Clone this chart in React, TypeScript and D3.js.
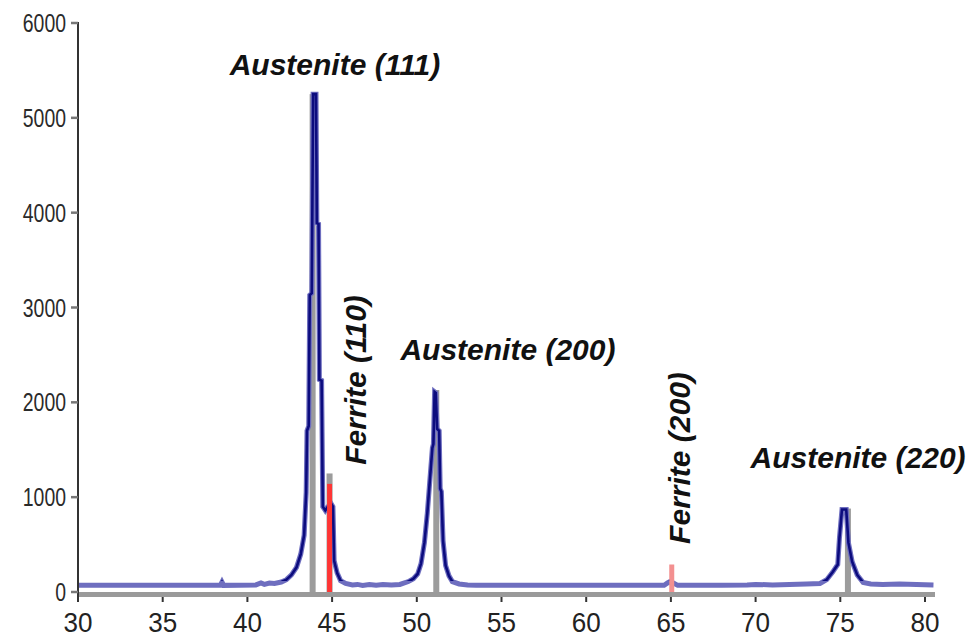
import React from "react";
import * as d3 from "d3";

// ---- Data ----
const THETA = [
  30.0, 33.0, 36.0, 38.4, 38.5, 38.6, 40.5, 40.8, 41.0, 41.3, 41.6, 42.0, 42.3, 42.6, 42.9,
  43.15, 43.35, 43.47, 43.52, 43.62, 43.68, 43.8, 43.88, 44.05, 44.1, 44.2, 44.25, 44.38,
  44.45, 44.6, 44.75, 44.95, 45.05, 45.12, 45.3, 45.5, 45.8, 46.2, 46.5, 46.8, 47.2, 47.6,
  48.0, 48.5, 49.0, 49.5, 49.8, 50.05, 50.25, 50.45, 50.62, 50.78, 50.92, 50.98, 51.05,
  51.12, 51.2, 51.32, 51.38, 51.45, 51.55, 51.7, 51.9, 52.1, 52.5, 53.0, 53.5, 56.0, 60.0,
  64.6, 64.8, 64.95, 65.15, 65.4, 68.0, 69.5, 70.0, 71.0, 72.0, 73.0, 73.8, 74.2, 74.55,
  74.85, 74.95, 75.1, 75.35, 75.48, 75.7, 76.0, 76.35, 76.8, 77.5, 78.5, 79.5, 80.5,
];
const INTENSITY = [
  70, 70, 70, 70, 105, 70, 75, 95, 80, 95, 90, 105, 130, 180, 260,
  400, 600, 1050, 1700, 1750, 3130, 3150, 5250, 5250, 3890, 3880, 2240, 2230,
  900, 860, 900, 930, 900, 330, 200, 120, 90, 75, 80, 70, 80, 72,
  80, 75, 80, 110, 140, 190, 300, 520, 830, 1200, 1520, 1560, 2110,
  2100, 1720, 1700, 1090, 1060, 540, 280, 170, 110, 85, 75, 70, 70, 70,
  70, 95, 110, 95, 70, 70, 75, 80, 75, 80, 85, 90, 130, 210,
  290, 570, 870, 870, 520, 320, 180, 100, 85, 80, 85, 80, 75,
];

const REF_GRAY_POS = [43.85, 44.85, 51.15, 75.45];
const REF_GRAY_INT = [5250, 1250, 2130, 880];
const FERRITE_POS = [44.85, 65.05];
const FERRITE_INT = [1140, 290];
const FERRITE_COLORS = ["#ff3535", "#f39090"];

const X_TICKS = [30, 35, 40, 45, 50, 55, 60, 65, 70, 75, 80];
const Y_TICKS = [0, 1000, 2000, 3000, 4000, 5000, 6000];

const LABELS = ["Austenite (111)", "Ferrite (110)", "Austenite (200)", "Ferrite (200)", "Austenite (220)"];
const LABEL_THETA = [45.17, 47.0, 55.38, 66.13, 76.05];
const LABEL_INT = [5452, 2236, 2446, 1413, 1308];
const LABEL_ROT = [false, true, false, true, false];

export default function App() {
  const W = 966, H = 639;
  const x = d3.scaleLinear().domain([30, 80]).range([78, 925]);
  const y = d3.scaleLinear().domain([0, 6000]).range([592, 23]);

  const pts: [number, number][] = THETA.map((t, i) => [t, INTENSITY[i]]);
  const line = d3.line<[number, number]>().x((d) => x(d[0])).y((d) => y(d[1]));
  const path = line(pts) || "";

  const font = "'Liberation Sans', Arial, sans-serif";

  return (
    <svg width={W} height={H} style={{ position: "absolute", left: 0, top: 0, background: "#fff" }}>
      <defs>
        <clipPath id="peakclip">
          <rect x={0} y={0} width={W} height={y(115)} />
        </clipPath>
      </defs>

      {/* reference gray sticks */}
      {REF_GRAY_POS.map((p, i) => (
        <rect key={"g" + i} x={x(p) - 3} y={y(REF_GRAY_INT[i])} width={6} height={y(0) - y(REF_GRAY_INT[i])} fill="#9c9c9c" />
      ))}

      {/* spectrum: light purple base, navy peaks */}
      <path d={path} fill="none" stroke="#6e6ebf" strokeWidth={5} strokeLinejoin="miter" />
      <path d={path} fill="none" stroke="#0c0c7e" strokeWidth={2.6} clipPath="url(#peakclip)" />

      {/* ferrite sticks */}
      {FERRITE_POS.map((p, i) => (
        <rect key={"f" + i} x={x(p) - 2.5} y={y(FERRITE_INT[i])} width={5} height={y(0) - y(FERRITE_INT[i])} fill={FERRITE_COLORS[i]} />
      ))}

      {/* x axis band */}
      <rect x={x(30)} y={y(0)} width={x(80) + 10 - x(30)} height={5} fill="#9a9a9a" />
      {X_TICKS.map((t) => (
        <g key={"xt" + t}>
          <line x1={x(t)} x2={x(t)} y1={y(0) + 5} y2={y(0) + 10} stroke="#333" strokeWidth={2} />
          <text x={x(t)} y={632} textAnchor="middle" fontFamily={font} fontSize={27} fill="#222"
            textLength={29} lengthAdjust="spacingAndGlyphs">{t}</text>
        </g>
      ))}

      {/* y axis */}
      <line x1={78} x2={78} y1={y(6000) - 1} y2={y(0) + 10} stroke="#333" strokeWidth={2} />
      {Y_TICKS.map((t) => {
        const s = String(t);
        return (
          <g key={"yt" + t}>
            <line x1={71} x2={78} y1={y(t)} y2={y(t)} stroke="#777" strokeWidth={2.5} />
            <text x={66} y={y(t) + 9} textAnchor="end" fontFamily={font} fontSize={25} fill="#2a2a2a"
              textLength={s.length * 10.8} lengthAdjust="spacingAndGlyphs">{s}</text>
          </g>
        );
      })}

      {/* peak labels */}
      {LABELS.map((l, i) => {
        const lx = x(LABEL_THETA[i]);
        const ly = y(LABEL_INT[i]);
        return LABEL_ROT[i] ? (
          <text key={l} x={0} y={0} transform={`translate(${lx},${ly}) rotate(-90)`} textAnchor="middle"
            fontFamily={font} fontSize={30} fontWeight="bold" fontStyle="italic" fill="#111">{l}</text>
        ) : (
          <text key={l} x={lx} y={ly} textAnchor="middle" fontFamily={font} fontSize={30}
            fontWeight="bold" fontStyle="italic" fill="#111">{l}</text>
        );
      })}
    </svg>
  );
}
